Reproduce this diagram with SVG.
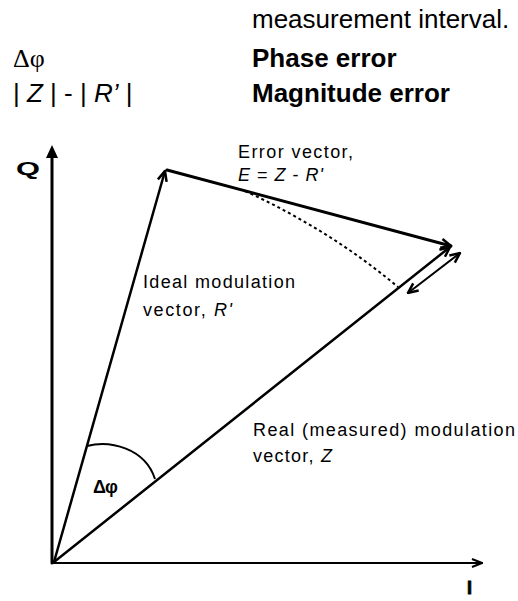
<svg xmlns="http://www.w3.org/2000/svg" width="518" height="601" viewBox="0 0 518 601">
<style>
.hdr{font-family:"Liberation Sans",Arial,sans-serif;font-size:26px;fill:#000}
.sym{font-family:"Liberation Serif","Times New Roman",serif;font-size:26px;fill:#000}
.b{font-weight:bold}
.lbl{font-family:"Liberation Sans",Arial,sans-serif;font-size:18px;fill:#000}
.it{font-style:italic}
.ln{stroke:#000;fill:none;stroke-linecap:round}
</style>
<defs>
<marker id="chev" viewBox="0 0 12 12" refX="11" refY="6" markerWidth="12" markerHeight="12" markerUnits="userSpaceOnUse" orient="auto-start-reverse">
<path d="M1,1.5 L11,6 L1,10.5" fill="none" stroke="#000" stroke-width="2.5"/>
</marker>
<marker id="chevS" viewBox="0 0 12 12" refX="11" refY="6" markerWidth="12" markerHeight="12" markerUnits="userSpaceOnUse" orient="auto">
<path d="M1,2 L11,6 L1,10" fill="none" stroke="#000" stroke-width="2.2"/>
</marker>
</defs>
<g id="header">
<text class="hdr" x="252" y="28">measurement interval.</text>
<text class="sym" x="13" y="67">Δφ</text>
<text class="hdr b" x="252" y="67">Phase error</text>
<text class="hdr" x="13" y="102">| <tspan class="it">Z</tspan> | - | <tspan class="it">R’</tspan> |</text>
<text class="hdr b" x="252" y="102">Magnitude error</text>
</g>
<g id="connectors">
<line id="q-axis" class="ln" x1="52" y1="563" x2="52" y2="156" stroke-width="3"/>
<polygon points="52,145 46,158 58,158" fill="#000"/>
<line id="i-axis" class="ln" x1="52" y1="563" x2="482" y2="563" stroke-width="2" marker-end="url(#chevS)"/>
<line id="ideal-vector" class="ln" x1="54" y1="562" x2="165" y2="171" stroke-width="2.5" marker-end="url(#chev)"/>
<line id="error-vector" class="ln" x1="167" y1="170" x2="451" y2="246" stroke-width="3" marker-end="url(#chev)"/>
<line id="real-vector" class="ln" x1="54" y1="562" x2="450" y2="247" stroke-width="2.5" marker-end="url(#chev)"/>
<path id="rotated-ideal" d="M245,191 Q330,230 398,287" fill="none" stroke="#000" stroke-width="2" stroke-dasharray="3,3"/>
<line id="magnitude-error" class="ln" x1="408" y1="293" x2="460" y2="253" stroke-width="2" marker-start="url(#chev)" marker-end="url(#chev)"/>
<path id="phase-arc" d="M87,446 C110,440 145,448 155,479" fill="none" stroke="#000" stroke-width="2"/>
</g>
<g id="label-q"><text class="lbl b" x="16" y="175" font-size="23" textLength="24" lengthAdjust="spacingAndGlyphs">Q</text></g>
<g id="label-i"><text class="lbl b" x="467" y="594" font-size="27" stroke="#000" stroke-width="0.8">I</text></g>
<g id="label-error"><text class="lbl" x="238" y="158" textLength="115">Error vector,</text>
<text class="lbl" x="238" y="181" textLength="85"><tspan class="it">E</tspan> = <tspan class="it">Z</tspan> - <tspan class="it">R'</tspan></text></g>
<g id="label-ideal"><text class="lbl" x="143" y="288" textLength="152">Ideal modulation</text>
<text class="lbl" x="143" y="316" textLength="89">vector, <tspan class="it">R'</tspan></text></g>
<g id="label-real"><text class="lbl" x="253" y="436" textLength="262">Real (measured) modulation</text>
<text class="lbl" x="253" y="462" textLength="79">vector, <tspan class="it">Z</tspan></text></g>
<g id="label-phase"><text class="lbl b" x="93" y="493" font-size="15" textLength="25">Δφ</text></g>
</svg>
